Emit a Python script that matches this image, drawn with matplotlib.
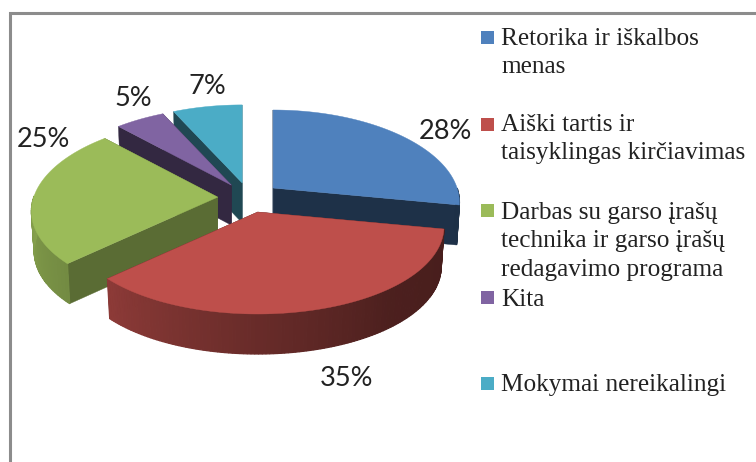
import numpy as np
import matplotlib
matplotlib.use("Agg")
import matplotlib.pyplot as plt
from matplotlib.patches import Polygon, Rectangle

# data
categories = ["Retorika ir iškalbos\nmenas",
              "Aiški tartis ir\ntaisyklingas kirčiavimas",
              "Darbas su garso įrašų\ntechnika ir garso įrašų\nredagavimo programa",
              "Kita",
              "Mokymai nereikalingi"]
values = [28, 35, 25, 5, 7]
colors = ["#4F81BD", "#BE4F4B", "#9BBB59", "#8064A2", "#4BACC6"]
wall_shades = [0.38, 0.38, 0.58, 0.40, 0.42]

# layout (pixels)
CX, CY = 249, 197.6
RX, RY = 184, 88.4
KX, KY = 0.157, 0.133
EXPLODE = 0.17
DEPTH = 40
BOTTOM_SCALE = 0.985
pct_pos = [(445, 131.5), (347, 378), (43, 139.5), (133, 98), (207, 86)]
legend_y = [53, 139, 241.5, 299.5, 385.5]
legend_sq_y = [37, 124, 210, 297, 383]

fig = plt.figure(figsize=(7.56, 4.62), dpi=100, facecolor="white")
ax = fig.add_axes([0, 0, 1, 1])
ax.set_xlim(0, 756)
ax.set_ylim(462, 0)
ax.axis("off")

def project(u, v, eu, ev):
    return (CX + RX * eu + RX * u / (1 - KX * v),
            CY + RY * ev + RY * v / (1 - KY * v))

def down(x, y, ax_):
    return ax_ + (x - ax_) * BOTTOM_SCALE, y + DEPTH

def shade(c, f):
    return tuple(np.array(matplotlib.colors.to_rgb(c)) * f)

def outer_shade(deg):
    return np.interp(deg, [90, 140, 180, 226, 270], [0.37, 0.40, 0.55, 0.74, 0.86])

frac = np.cumsum([0] + values) / sum(values) * 360

for i in [4, 3, 0, 2, 1]:
    a0, a1 = frac[i], frac[i + 1]
    mid = np.radians((a0 + a1) / 2)
    eu, ev = EXPLODE * np.sin(mid), -EXPLODE * np.cos(mid)
    th = np.radians(np.r_[np.arange(a0, a1, 1.0), a1])
    px, py = project(np.sin(th), -np.cos(th), eu, ev)
    ax_, ay_ = project(0.0, 0.0, eu, ev)
    col = colors[i]
    wc = shade(col, wall_shades[i])
    # radial walls: end wall, then start wall
    for k in (-1, 0):
        qx, qy = px[k], py[k]
        pts = [(ax_, ay_), (qx, qy), down(qx, qy, ax_), down(ax_, ay_, ax_)]
        ax.add_patch(Polygon(pts, closed=True, fc=wc, ec=wc, lw=0.3))
    # outer wall as shaded strips, only where it faces the viewer
    for j in range(len(th) - 1):
        deg = np.degrees(th[j])
        if not 90 <= deg < 270:
            continue
        pts = [(px[j], py[j]), (px[j + 1], py[j + 1]),
               down(px[j + 1], py[j + 1], ax_), down(px[j], py[j], ax_)]
        c = shade(col, outer_shade(deg))
        ax.add_patch(Polygon(pts, closed=True, fc=c, ec=c, lw=0.9))
    # top face
    ax.add_patch(Polygon(np.column_stack([np.r_[ax_, px], np.r_[ay_, py]]),
                         closed=True, fc=col, ec=col, lw=0.3))

for v, (x, y) in zip(values, pct_pos):
    ax.text(x, y, f"{v}%", ha="center", va="center", fontsize=19.5,
            family="Lato", color="#222222")

for cat, col, y, sy in zip(categories, colors, legend_y, legend_sq_y):
    ax.add_patch(Rectangle((481, sy - 6.5), 13, 13, fc=col, ec="none"))
    ax.text(501, y, cat, ha="left", va="center", fontsize=18.2,
            family="Liberation Serif", color="#222222", linespacing=1.37)

# frame of the cropped chart
ax.plot([9.5, 9.5, 756], [462, 12.5, 12.5], color="#8c8c8c", lw=2.2,
        solid_capstyle="butt", solid_joinstyle="miter")

fig.savefig("out.png", dpi=100, facecolor="white")
